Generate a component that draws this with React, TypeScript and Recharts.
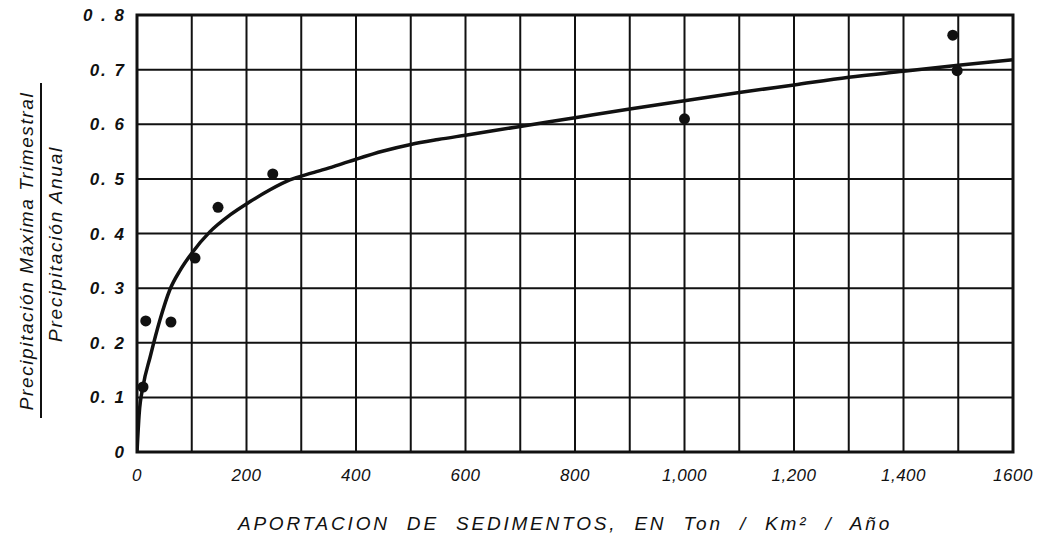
import { ComposedChart, Line, Scatter, XAxis, YAxis, CartesianGrid, ReferenceArea } from 'recharts';

// sediment yield (Ton/Km²/Año) vs. max quarterly / annual precipitation
const xTicks = [0, 100, 200, 300, 400, 500, 600, 700, 800, 900, 1000, 1100, 1200, 1300, 1400, 1500, 1600];
const xTickLabels = ['0', '', '200', '', '400', '', '600', '', '800', '', '1,000', '', '1,200', '', '1,400', '', '1600'];
const yTicks = [0, 0.1, 0.2, 0.3, 0.4, 0.5, 0.6, 0.7, 0.8];
const yTickLabels = ['0', '0. 1', '0. 2', '0. 3', '0. 4', '0. 5', '0. 6', '0. 7', '0 . 8'];

const curveX = [0, 4, 11, 24, 42, 60, 79, 100, 133, 170, 206, 243, 279, 320, 360, 400, 450, 500, 550, 600, 700, 800, 900, 1000, 1100, 1200, 1300, 1400, 1500, 1600];
const curveY = [0, 0.07, 0.12, 0.174, 0.242, 0.297, 0.333, 0.364, 0.403, 0.434, 0.458, 0.48, 0.498, 0.511, 0.523, 0.536, 0.551, 0.563, 0.572, 0.58, 0.596, 0.612, 0.628, 0.643, 0.658, 0.672, 0.686, 0.697, 0.708, 0.718];

const obsX = [11, 16, 62, 106, 148, 248, 1000, 1490, 1498];
const obsY = [0.119, 0.24, 0.238, 0.355, 0.448, 0.509, 0.61, 0.763, 0.698];

const curve = curveX.map((x, i) => ({ x, y: curveY[i] }));
const points = obsX.map((x, i) => ({ x, y: obsY[i] }));

const FONT = '"Liberation Sans", Arial, sans-serif';

const XTick = (props: any) => {
  const { x, y, payload } = props;
  const label = xTickLabels[xTicks.indexOf(payload.value)];
  if (!label) return null;
  return (
    <text x={x} y={y + 21} textAnchor="middle" fontFamily={FONT} fontStyle="italic" fontSize={17} letterSpacing={0.5} fill="#111">
      {label}
    </text>
  );
};

const YTick = (props: any) => {
  const { x, y, payload } = props;
  const idx = yTicks.findIndex(t => Math.abs(t - payload.value) < 1e-6);
  return (
    <text x={x - 3} y={y + 6} textAnchor="end" fontFamily={FONT} fontStyle="italic" fontWeight="bold" fontSize={17} letterSpacing={2} fill="#111">
      {yTickLabels[idx]}
    </text>
  );
};

const Dot = (p: any) => <circle cx={p.cx} cy={p.cy} r={5.5} fill="#111" />;

export default function App() {
  return (
    <div style={{ position: 'absolute', left: 0, top: 0, width: 1049, height: 538, background: '#fff' }}>
      <ComposedChart width={1049} height={538} margin={{ top: 15, right: 36, bottom: 0, left: 0 }}>
        <CartesianGrid stroke="#111" strokeWidth={2} />
        <XAxis
          dataKey="x"
          type="number"
          domain={[0, 1600]}
          ticks={xTicks}
          interval={0}
          height={86}
          axisLine={false}
          tickLine={false}
          tick={<XTick />}
          allowDataOverflow
        />
        <YAxis
          type="number"
          domain={[0, 0.8]}
          ticks={yTicks}
          interval={0}
          width={137}
          axisLine={false}
          tickLine={false}
          tick={<YTick />}
          allowDataOverflow
        />
        <ReferenceArea x1={0} x2={1600} y1={0} y2={0.8} fill="none" stroke="#111" strokeWidth={3} ifOverflow="visible" />
        <Line data={curve} dataKey="y" type="monotone" stroke="#111" strokeWidth={3.5} dot={false} isAnimationActive={false} />
        <Scatter data={points} dataKey="y" shape={<Dot />} isAnimationActive={false} />
      </ComposedChart>
      <svg width={1049} height={538} style={{ position: 'absolute', left: 0, top: 0, pointerEvents: 'none' }}>
        <g transform="translate(33, 251) rotate(-90)">
          <text x={0} y={0} textAnchor="middle" fontFamily={FONT} fontStyle="italic" fontSize={19} letterSpacing={1.6} fill="#111">
            Precipitación  Máxima Trimestral
          </text>
        </g>
        <line x1={41} y1={83} x2={41} y2={418} stroke="#111" strokeWidth={2} />
        <g transform="translate(62, 244) rotate(-90)">
          <text x={0} y={0} textAnchor="middle" fontFamily={FONT} fontStyle="italic" fontSize={19} letterSpacing={1.8} fill="#111">
            Precipitación  Anual
          </text>
        </g>
        <text x={565} y={530} textAnchor="middle" fontFamily={FONT} fontStyle="italic" fontSize={19} letterSpacing={2.8} wordSpacing={9} fill="#111">
          APORTACION DE SEDIMENTOS, EN Ton / Km² / Año
        </text>
      </svg>
    </div>
  );
}
